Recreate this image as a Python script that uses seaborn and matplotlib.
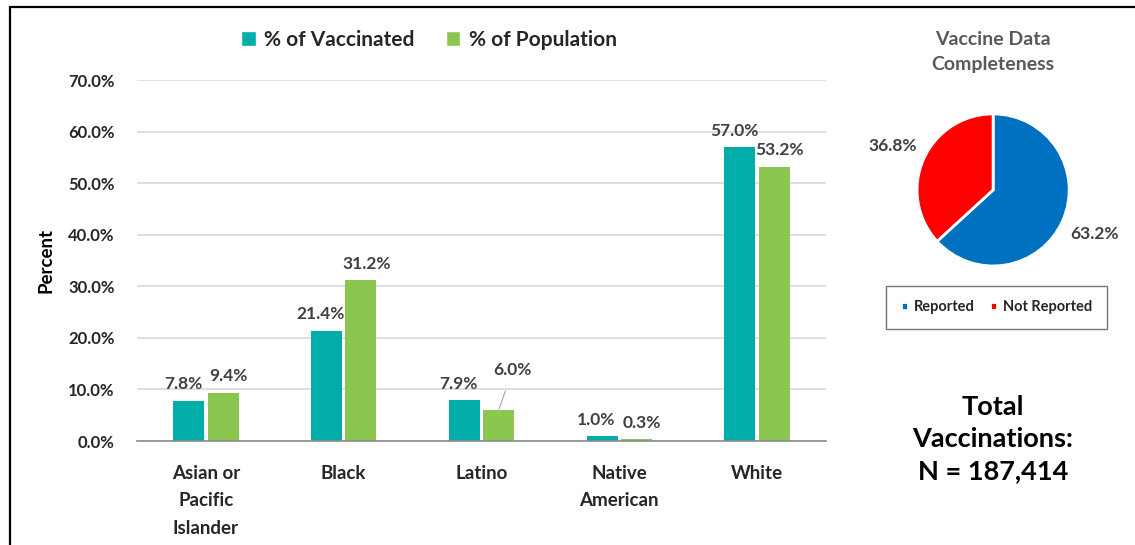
import numpy as np
import pandas as pd
import matplotlib
matplotlib.use("Agg")
import matplotlib.pyplot as plt
from matplotlib.lines import Line2D
from matplotlib.patches import Patch
import seaborn as sns

# data
groups = ["Asian or\nPacific\nIslander", "Black", "Latino", "Native\nAmerican", "White"]
pct_vaccinated = [7.8, 21.4, 7.9, 1.0, 57.0]
pct_population = [9.4, 31.2, 6.0, 0.3, 53.2]
series_names = ["% of Vaccinated", "% of Population"]
y_ticks = [0, 10, 20, 30, 40, 50, 60, 70]

pie_labels = ["Reported", "Not Reported"]
pie_values = [63.2, 36.8]
total_n = 187414

teal = "#00ADA9"
green = "#8BC750"
blue = "#0070C0"
red = "#FF0000"
label_gray = "#404040"

sns.set_style("white")
plt.rcParams["font.family"] = ["Lato", "DejaVu Sans"]
plt.rcParams["font.weight"] = "bold"

df = pd.DataFrame({
    "group": groups * 2,
    "value": pct_vaccinated + pct_population,
    "series": [series_names[0]] * len(groups) + [series_names[1]] * len(groups),
})

fig = plt.figure(figsize=(11.35, 5.45), dpi=100)

# bar chart
ax = fig.add_axes([0.1207, 0.1908, 0.6071, 0.6622])
sns.barplot(data=df, x="group", y="value", hue="series", hue_order=series_names,
            palette=[teal, green], width=0.5, gap=0.1, saturation=1,
            edgecolor="none", ax=ax, legend=False)
ax.set_ylim(0, 70)
ax.set_xlim(-0.5, 4.5)
ax.set_yticks(y_ticks)
ax.set_yticklabels([f"{t:.1f}%" for t in y_ticks], fontsize=12, fontweight="bold", color="#262626")
ax.set_xticklabels(groups, fontsize=13.5, fontweight="bold", color="#262626", linespacing=1.75)
ax.tick_params(axis="both", length=0)
ax.tick_params(axis="x", pad=17)
ax.tick_params(axis="y", pad=16)
ax.set_xlabel("")
ax.set_ylabel("Percent", fontsize=13.5, fontweight="bold", color="#000000", labelpad=10)
ax.yaxis.grid(True, color="#D9D9D9", linewidth=1.2)
ax.set_axisbelow(True)
for side in ["left", "right", "top"]:
    ax.spines[side].set_visible(False)
ax.spines["bottom"].set_color("#8C8C8C")
ax.spines["bottom"].set_linewidth(1.2)

# value labels, nudged apart sideways like the original
nudge = [-4, 4]
for i, container in enumerate(ax.containers):
    labels = []
    for bar in container:
        h = bar.get_height()
        if i == 1 and np.isclose(h, pct_population[2]):
            labels.append("")
            ax.annotate(f"{h:.1f}%", xy=(bar.get_x() + bar.get_width() / 2, h),
                        xytext=(10, 25), textcoords="offset points", ha="center",
                        fontsize=12.5, fontweight="bold", color=label_gray,
                        arrowprops=dict(arrowstyle="-", color="#A6A6A6", lw=0.8,
                                        shrinkA=7, shrinkB=1))
        else:
            labels.append(f"{h:.1f}%")
    texts = ax.bar_label(container, labels=labels, padding=6, fontsize=12.5,
                         fontweight="bold", color=label_gray)
    for t in texts:
        t.xyann = (nudge[i], t.xyann[1])

handles = [Patch(facecolor=teal), Patch(facecolor=green)]
fig.legend(handles, series_names, loc="center", bbox_to_anchor=(0.378, 0.927),
           ncol=2, frameon=False, handlelength=0.7, handleheight=0.7,
           handletextpad=0.4, columnspacing=1.5, prop={"weight": "bold", "size": 15})

# pie chart
pax = fig.add_axes([0.808, 0.512, 0.134, 0.279])
wedges, _, autotexts = pax.pie(pie_values, colors=[blue, red], startangle=90,
                               counterclock=False, autopct="%.1f%%", pctdistance=1.45,
                               wedgeprops=dict(edgecolor="white", linewidth=2))
for t in autotexts:
    t.set_fontsize(12.5)
    t.set_fontweight("bold")
    t.set_color(label_gray)
pax.set_xlim(-1, 1)
pax.set_ylim(-1, 1)
pax.set_aspect("equal")

fig.text(0.875, 0.905, "Vaccine Data\nCompleteness", ha="center", va="center",
         fontsize=14, fontweight="bold", color="#595959", linespacing=1.55)

leg2 = fig.legend(wedges, pie_labels, loc="center", bbox_to_anchor=(0.878, 0.436),
                  ncol=2, frameon=True, fancybox=False, handlelength=0.5, handleheight=0.5,
                  handletextpad=0.4, columnspacing=1.0, borderpad=1.0,
                  prop={"weight": "bold", "size": 10.5})
leg2.get_frame().set_edgecolor("#44546A")
leg2.get_frame().set_linewidth(1.0)

fig.text(0.875, 0.195, f"Total\nVaccinations:\nN = {total_n:,}", ha="center", va="center",
         fontsize=19.5, fontweight="bold", color="#000000", linespacing=1.4)

# outer frame (top and left edges)
fig.add_artist(Line2D([0.0088, 1.0], [0.987, 0.987], color="black", lw=1.6))
fig.add_artist(Line2D([0.0088, 0.0088], [0.0, 0.987], color="black", lw=1.6))

fig.savefig("out.png", dpi=100)
